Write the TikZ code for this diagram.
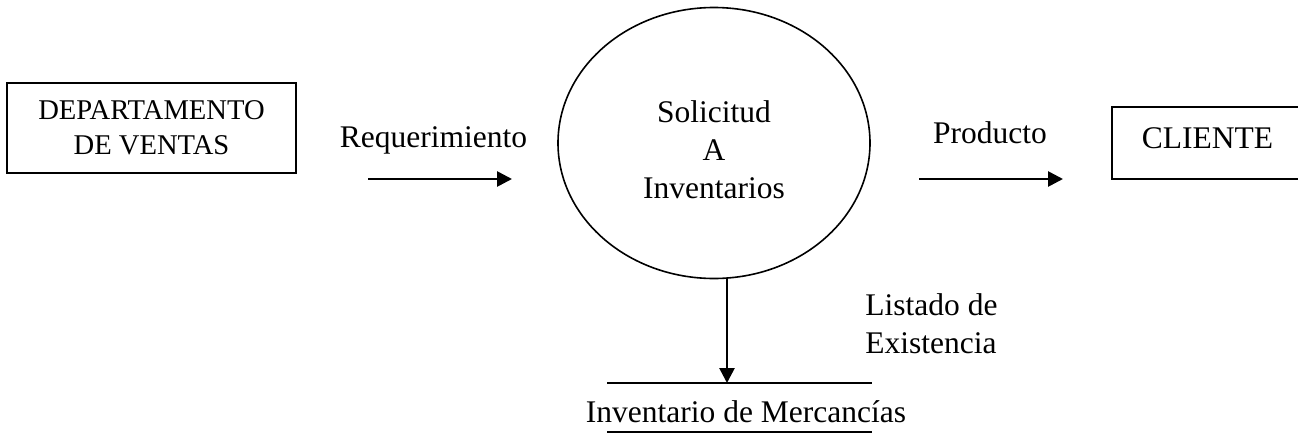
\documentclass[tikz,border=0pt]{standalone}
\usepackage{fontspec}
\setmainfont{Liberation Serif}
\usetikzlibrary{arrows.meta,shapes.geometric}

\begin{document}
\begin{tikzpicture}[x=0.5pt,y=-0.5pt,>={Triangle[length=7.5pt,width=7.5pt]},
  flow/.style={->,line width=1.35pt},
  entity/.style={draw,line width=1pt,inner sep=0pt},
  lbl/.style={inner sep=0pt,font=\fontsize{15.75}{19}\selectfont}]
  \clip (0,0) rectangle (1298,434);
  % external entities
  \node[entity,minimum width=144.5pt,minimum height=45pt,align=center,
        font=\fontsize{14.3}{17.5}\selectfont] (ventas) at (151.5,128)
        {DEPARTAMENTO\\DE VENTAS};
  \node[entity,lbl,minimum width=95.5pt,minimum height=36pt,
        text height=10.4pt,text depth=5.4pt] (cliente) at (1207.5,143) {CLIENTE};
  % process
  \node[ellipse,draw,line width=0.8pt,minimum width=156pt,
        minimum height=135.5pt] (proc) at (714,143) {};
  \node[lbl,align=center] (proctxt) at (714,149.5) {Solicitud\\A\\Inventarios};
  % data store
  \coordinate (sl) at (607,383);
  \coordinate (sr) at (872,383);
  \coordinate (st) at (727,383);
  \node[lbl,anchor=base] (merc) at (746,422) {Inventario de Mercancías};
  \draw[line width=1pt] (sl) -- (sr);
  \draw[line width=1pt] ([yshift=-24.5pt]sl) -- ([yshift=-24.5pt]sr);
  % flows
  \coordinate (r1) at (368,179);
  \coordinate (r2) at (512,179);
  \coordinate (p1) at (919,179);
  \coordinate (p2) at (1063,179);
  \node[lbl,anchor=base] (req) at (433.5,147) {Requerimiento};
  \node[lbl,anchor=base] (prod) at (990,143) {Producto};
  \node[lbl,anchor=north west,align=left] (lista) at (865,293.5)
        {Listado de\\Existencia};
  \draw[flow] (r1) -- (r2);
  \draw[flow] (p1) -- (p2);
  \draw[flow] (st |- proc.south) -- (st);
\end{tikzpicture}
\end{document}
